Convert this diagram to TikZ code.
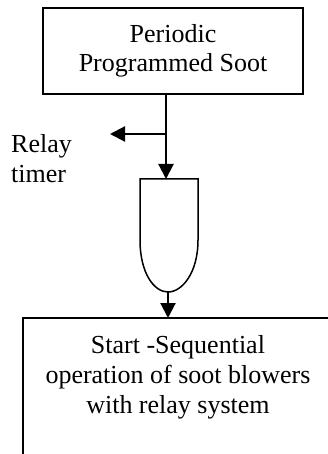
\documentclass[tikz,border=0pt]{standalone}
\usepackage{fontspec}
\setmainfont{Liberation Serif}
\usetikzlibrary{arrows.meta}

\begin{document}
\begin{tikzpicture}[x=1pt,y=-1pt,>={Triangle[length=15pt,width=15pt]},
  box/.style={draw,line width=1.6pt,minimum width=260pt,minimum height=86pt,inner sep=0pt},
  lbl/.style={align=center,inner sep=0pt,font=\fontsize{26}{30}\selectfont},
  flow/.style={->,line width=2.2pt},
  gate/.style={line width=1.5pt}]
  \clip (0,0) rectangle (328,454);
  % boxes and labels
  \node[box,lbl,font=\fontsize{26}{28.5}\selectfont] (soot) at (173,51) {Periodic\\Programmed Soot};
  \node[lbl,align=left,anchor=west] (relay) at (11,159) {Relay\\timer};
  \draw[line width=1.6pt] (23,470) -- (23,318) -- (345,318);
  \node[lbl] (start) at (178,377) {Start -Sequential\\operation of soot blowers\\with relay system};
  % gate
  \draw[gate] (140,179) -- (198,179) -- (198,240)
    .. controls (198,273) and (182,292) .. (168,292)
    .. controls (154,292) and (140,273) .. (140,240) -- cycle;
  \coordinate (tap) at (166,134);
  \coordinate (relayend) at (110,134);
  \coordinate (gatein) at (166,179);
  \coordinate (gateout) at (168,292);
  \coordinate (startin) at (168,318);
  % connectors
  \draw[flow] (soot.south -| tap) -- (gatein);
  \draw[flow] (tap) -- (relayend);
  \draw[flow] (gateout) -- (startin);
\end{tikzpicture}
\end{document}
